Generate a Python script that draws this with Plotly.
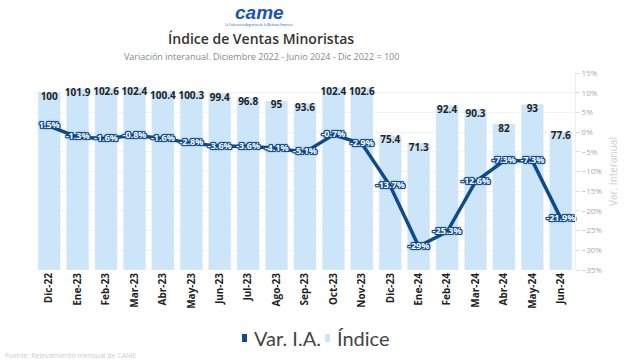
import plotly.graph_objects as go

months = ["Dic-22", "Ene-23", "Feb-23", "Mar-23", "Abr-23", "May-23", "Jun-23", "Jul-23",
          "Ago-23", "Sep-23", "Oct-23", "Nov-23", "Dic-23", "Ene-24", "Feb-24", "Mar-24",
          "Abr-24", "May-24", "Jun-24"]
indice = [100, 101.9, 102.6, 102.4, 100.4, 100.3, 99.4, 96.8, 95, 93.6, 102.4, 102.6,
          75.4, 71.3, 92.4, 90.3, 82, 93, 77.6]
var_ia = [1.5, -1.3, -1.6, -0.8, -1.6, -2.8, -3.6, -3.6, -4.1, -5.1, -0.7, -2.9,
          -13.7, -29, -25.3, -12.6, -7.3, -7.3, -21.9]
legend_names = ["Var. I.A.", "Índice"]

BAR = "#cde5f8"
NAVY = "#0f4a8c"
FONT = "Open Sans"

def fmt(v):
    return f"{v:g}"

shadow = ", ".join([f"{dx}px {dy}px 0 {NAVY}" for dx in (-1, 0, 1) for dy in (-1, 0, 1)]
                   + [f"0 0 2px {NAVY}", f"0 0 3px {NAVY}"])

fig = go.Figure()
fig.add_trace(go.Bar(x=months, y=indice, marker_color=BAR, name=legend_names[1],
                     showlegend=False, yaxis="y", hoverinfo="skip"))
fig.add_trace(go.Scatter(x=months, y=indice, mode="text", text=[fmt(v) for v in indice],
                         textposition="bottom center",
                         textfont=dict(family=FONT, size=10, color="#222", weight="bold"),
                         showlegend=False, yaxis="y", cliponaxis=False))
fig.add_trace(go.Scatter(x=months, y=var_ia, mode="lines+text",
                         text=[f"{fmt(v)}%" for v in var_ia], textposition="middle center",
                         line=dict(color=NAVY, width=3.5),
                         textfont=dict(family=FONT, size=9, color="white", weight="bold",
                                       shadow=shadow),
                         name=legend_names[0], showlegend=False, yaxis="y2", cliponaxis=False))

L, R = 35, 575
T, B = 73, 270
def px_x(p):
    return (p - L) / (R - L)
def px_y(p):
    return (B - p) / (B - T)

fig.update_layout(
    width=640, height=362,
    margin=dict(l=L, r=640 - R, t=T, b=362 - B, autoexpand=False),
    paper_bgcolor="white", plot_bgcolor="white",
    bargap=0.22,
    font=dict(family=FONT),
    showlegend=False,
    xaxis=dict(type="category", tickangle=-90, ticks="", showgrid=False, automargin=False,
               tickfont=dict(family=FONT, size=10, color="#222", weight="bold"),
               range=[-0.5, len(months) - 0.5]),
    yaxis=dict(visible=False, range=[0, 110.7], showgrid=False),
    yaxis2=dict(overlaying="y", side="right", range=[-35, 15], dtick=5, ticksuffix="%",
                showgrid=True, gridcolor="#f3f3f3", zeroline=False, automargin=False,
                showline=True, linecolor="#eeeeee",
                ticks="outside", ticklen=4, tickcolor="#e0e0e0",
                tickfont=dict(family=FONT, size=8, color="#aaaaaa"),
                title=dict(text="Var. Interanual", font=dict(family=FONT, size=10, color="#cccccc"),
                           standoff=8)),
)

# custom legend
leg_items = [(legend_names[0], NAVY, 242, 252), (legend_names[1], BAR, 325, 335)]
for name, col, mx, tx in leg_items:
    fig.add_shape(type="rect", xref="paper", yref="paper",
                  x0=px_x(mx), x1=px_x(mx + 5), y0=px_y(342), y1=px_y(334),
                  fillcolor=col, line=dict(width=0))
    fig.add_annotation(text=name, x=px_x(tx), y=px_y(338), xref="paper", yref="paper",
                       showarrow=False, xanchor="left", yanchor="middle",
                       font=dict(family="Lato", size=20, color="#444"))

fig.add_annotation(text="Índice de Ventas Minoristas", x=px_x(261), y=px_y(39),
                   xref="paper", yref="paper", showarrow=False, xanchor="center", yanchor="middle",
                   font=dict(family=FONT, size=14, color="#333", weight=600))
fig.add_annotation(text="Variación interanual. Diciembre 2022 - Junio 2024 - Dic 2022 = 100",
                   x=px_x(261), y=px_y(56), xref="paper", yref="paper", showarrow=False,
                   xanchor="center", yanchor="middle",
                   font=dict(family=FONT, size=9, color="#888"))
fig.add_annotation(text="<i>came</i>", x=px_x(259), y=px_y(12), xref="paper", yref="paper",
                   showarrow=False, xanchor="center", yanchor="middle",
                   font=dict(family="Liberation Sans", size=19, color="#1a55b0", weight="bold"))
fig.add_annotation(text="La Federación Argentina de la Mediana Empresa", x=px_x(259), y=px_y(25),
                   xref="paper", yref="paper", showarrow=False, xanchor="center", yanchor="middle",
                   font=dict(family=FONT, size=3, color="#1a55b0"))
fig.add_annotation(text="Fuente: Relevamiento mensual de CAME", x=px_x(3), y=px_y(355),
                   xref="paper", yref="paper", showarrow=False, xanchor="left", yanchor="middle",
                   font=dict(family=FONT, size=7, color="#cccccc"))

fig.write_html("out.html", config={"displayModeBar": False},
               post_script="document.body.style.margin='0';document.body.style.padding='0';")
